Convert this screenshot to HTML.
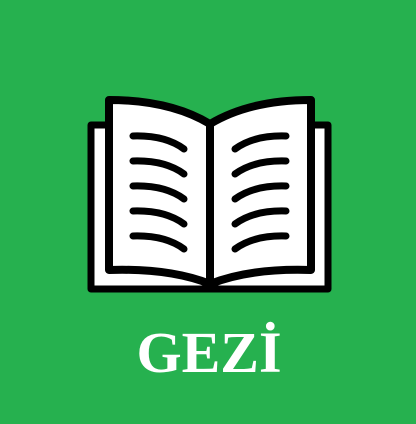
<!DOCTYPE html>
<html><head><meta charset="utf-8"><style>
html,body{margin:0;padding:0;width:416px;height:424px;overflow:hidden;background:#26b14f}
svg{display:block}
</style></head><body>
<svg width="416" height="424" viewBox="0 0 416 424">
<rect x="0" y="0" width="416" height="424" fill="#26b14f"/>
<g stroke="#000" stroke-linejoin="round" stroke-linecap="round" fill="#fff">
<rect x="91" y="125" width="237" height="164" stroke-width="7"/>
<path d="M109 100 Q170 100 210 124 L210 284 Q170 268 109 270 Z" stroke-width="8"/>
<path d="M311 100 Q250 100 210 124 L210 284 Q250 268 311 270 Z" stroke-width="8"/>
<g fill="none" stroke-width="7">
<path d="M133 136 Q165 135 184 149"/><path d="M133 161 Q165 160 184 174"/><path d="M133 186 Q165 185 184 199"/><path d="M133 211 Q165 210 184 224"/><path d="M133 236 Q165 235 184 249"/>
<path d="M286 136 Q254 135 235 149"/><path d="M286 161 Q254 160 235 174"/><path d="M286 186 Q254 185 235 199"/><path d="M286 211 Q254 210 235 224"/><path d="M286 236 Q254 235 235 249"/>
</g>
</g>
<text x="209" y="372" text-anchor="middle" font-family="'Liberation Serif',serif" font-weight="bold" font-size="58" fill="#fff">GEZİ</text>
</svg>
</body></html>
